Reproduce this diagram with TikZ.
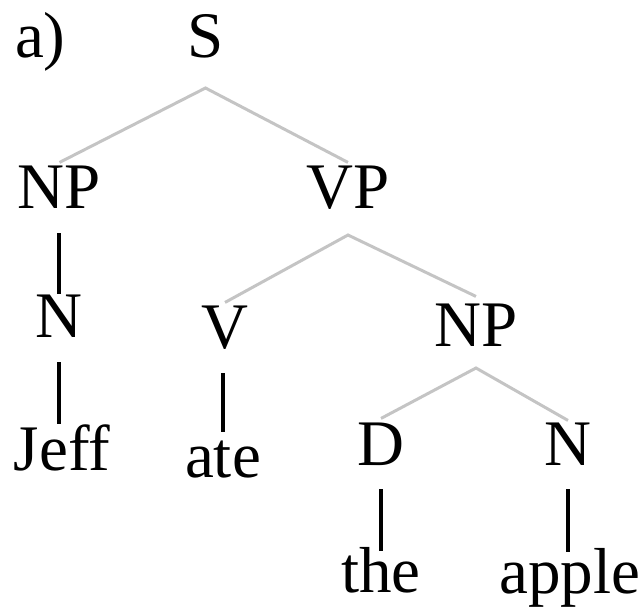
\documentclass[tikz,border=0pt]{standalone}
\usepackage{fontspec}
\setmainfont{Liberation Serif}
\usetikzlibrary{calc}
\definecolor{branchgray}{RGB}{196,196,196}
\tikzset{
  lbl/.style={anchor=base, inner sep=0pt, outer sep=0pt, font=\fontsize{65}{70}\selectfont},
  branch/.style={draw=branchgray, line width=3pt},
  stem/.style={draw=black, line width=4pt}
}
\begin{document}
\begin{tikzpicture}[x=1pt, y=-1pt]
\useasboundingbox (0,0) rectangle (640,606);
\node[lbl, anchor=base west] (lab) at (15,57) {a)};
\node[lbl] (S) at (205.5,57) {S};
\node[lbl] (NPa) at (59.5,208) {NP};
\node[lbl] (VP) at (348,208) {VP};
\node[lbl] (Na) at (59,337) {N};
\node[lbl] (V) at (225,348) {V};
\node[lbl] (NPb) at (476,346) {NP};
\node[lbl] (jeff) at (62,470) {Jeff};
\node[lbl] (ate) at (223,477) {ate};
\node[lbl] (D) at (381,465) {D};
\node[lbl] (Nb) at (568,465) {N};
\node[lbl] (the) at (381,592) {the};
\node[lbl] (apple) at (570,593) {apple};
% grey branches
\draw[branch] ([yshift=3pt]NPa.north) -- ([yshift=-31pt]S.base) -- ([yshift=3pt]VP.north);
\draw[branch] ([yshift=3pt]V.north) -- ([yshift=-27pt]VP.base) -- ([yshift=7pt]NPb.north);
\draw[branch] ([yshift=4pt]D.north) -- ([yshift=-22pt]NPb.base) -- ([yshift=2pt]Nb.north);
% black stems (vertical)
\draw[stem] ([yshift=-25pt]Na.base |- NPa.base) -- (Na.north);
\draw[stem] ([yshift=-25pt]Na.base) -- (Na.base |- jeff.north);
\draw[stem] ([yshift=-25pt]ate.base |- V.base) -- ([yshift=8pt]ate.north);
\draw[stem] ([yshift=-24pt]D.base) -- ([yshift=-4pt]D.base |- the.north);
\draw[stem] ([yshift=-24pt]Nb.base) -- ([yshift=-4pt]Nb.base |- apple.north);
\end{tikzpicture}
\end{document}
